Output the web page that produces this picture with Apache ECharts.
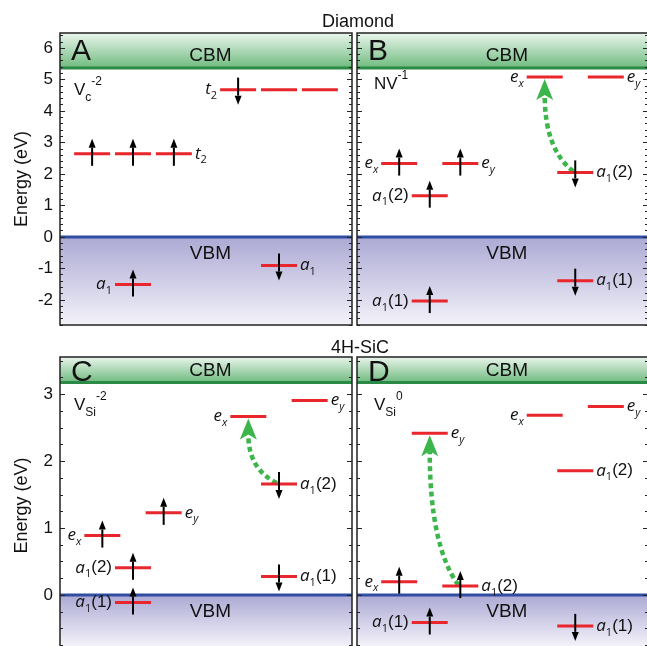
<!DOCTYPE html>
<html>
<head>
<meta charset="utf-8">
<script src="https://cdn.jsdelivr.net/npm/echarts@6/dist/echarts.min.js"></script>
<style>html,body{margin:0;padding:0;background:#fff}#c{width:647px;height:646px}</style>
</head>
<body>
<div id="c"></div>
<script>
// ---------------- data ----------------
const rowTitles = ['Diamond', '4H-SiC'];
const panelLetters = ['A', 'B', 'C', 'D'];
const defectNames = ['V_c^-2', 'NV^-1', 'V_Si^-2', 'V_Si^0'];
const bandGaps = [5.37, 5.37, 3.18, 3.18];          // CBM energy (eV), VBM = 0
const yRangeTop = [-2.8, 6.48];
const yRangeBottom = [-1, 3.56];
const majorTicksTop = [-2, -1, 0, 1, 2, 3, 4, 5, 6];
const majorTicksBottom = [-1, 0, 1, 2, 3];

// Panel A: Vc^-2 (diamond)
const colsA   = [11, 25, 39, 61, 75, 89, 25, 75];
const energyA = [2.64, 2.64, 2.64, 4.68, 4.68, 4.68, -1.51, -0.91];
const spinA   = ['up', 'up', 'up', 'down', '', '', 'up', 'down'];
const labelA  = ['', '', 't2', 't2', '', '', 'a1', 'a1'];
const sideA   = ['', '', 'R', 'L', '', '', 'L', 'R'];
const transA  = [];

// Panel B: NV^-1 (diamond)
const colsB   = [14.5, 35.5, 25, 25, 64.5, 85.5, 75, 75];
const energyB = [2.33, 2.33, 1.31, -2.04, 5.08, 5.08, 2.05, -1.39];
const spinB   = ['up', 'up', 'up', 'up', '', '', 'down', 'down'];
const labelB  = ['ex', 'ey', 'a1(2)', 'a1(1)', 'ex', 'ey', 'a1(2)', 'a1(1)'];
const sideB   = ['L', 'R', 'L', 'L', 'L', 'R', 'R', 'R'];
const transB  = [6, 4];

// Panel C: V_Si^-2 (4H-SiC)
const colsC   = [25, 25, 14.5, 35.5, 64.5, 85.5, 75, 75];
const energyC = [-0.11, 0.41, 0.89, 1.23, 2.67, 2.91, 1.66, 0.28];
const spinC   = ['up', 'up', 'up', 'up', '', '', 'down', 'down'];
const labelC  = ['a1(1)', 'a1(2)', 'ex', 'ey', 'ex', 'ey', 'a1(2)', 'a1(1)'];
const sideC   = ['L', 'L', 'L', 'R', 'L', 'R', 'R', 'R'];
const transC  = [6, 4];

// Panel D: V_Si^0 (4H-SiC)
const colsD   = [14.5, 35.5, 25, 25, 64.5, 85.5, 75, 75];
const energyD = [0.20, 0.135, -0.41, 2.42, 2.69, 2.82, 1.86, -0.46];
const spinD   = ['up', 'up', 'up', '', '', '', '', 'down'];
const labelD  = ['ex', 'a1(2)', 'a1(1)', 'ey', 'ex', 'ey', 'a1(2)', 'a1(1)'];
const sideD   = ['L', 'R', 'L', 'R', 'L', 'R', 'R', 'R'];
const transD  = [1, 3];

// ---------------- build ----------------
const panels = [
  {cols: colsA, E: energyA, spin: spinA, label: labelA, side: sideA, trans: transA},
  {cols: colsB, E: energyB, spin: spinB, label: labelB, side: sideB, trans: transB},
  {cols: colsC, E: energyC, spin: spinC, label: labelC, side: sideC, trans: transC},
  {cols: colsD, E: energyD, spin: spinD, label: labelD, side: sideD, trans: transD}
];

const FONT = "'Liberation Sans', Arial, sans-serif";
const IFONT = "'Open Sans', 'DejaVu Sans', sans-serif";
const RED = '#e8262b';
const GREEN = '#3cb54b';

const gridLayout = [
  {left: 60, top: 33, width: 292, height: 292},
  {left: 357, top: 33, width: 291, height: 292},
  {left: 60, top: 357, width: 292, height: 305},
  {left: 357, top: 357, width: 291, height: 305}
];

function minorList(lo, hi, step) {
  const out = [];
  const n = Math.round((hi - lo) / step);
  for (let i = 0; i <= n; i++) out.push(+(lo + i * step).toFixed(3));
  return out;
}

// rich text helpers
const richLevel = {
  i: {fontFamily: IFONT, fontStyle: 'italic', fontSize: 17, lineHeight: 24, fill: '#111'},
  s: {fontFamily: IFONT, fontStyle: 'italic', fontSize: 11, lineHeight: 11, verticalAlign: 'bottom', fill: '#111'},
  n: {fontFamily: IFONT, fontSize: 11, lineHeight: 11, verticalAlign: 'bottom', fill: '#111'},
  p: {fontFamily: FONT, fontSize: 17, lineHeight: 24, fill: '#111'}
};
function levelRich(lbl) {
  if (!lbl) return '';
  const m = lbl.match(/^([a-z])(\w)(\(.*\))?$/);
  const base = m[1], sub = m[2], rest = m[3] || '';
  const subStyle = /\d/.test(sub) ? 'n' : 's';
  return '{i|' + base + '}{' + subStyle + '|' + sub + '}' + (rest ? '{p|' + rest + '}' : '');
}
const richName = {
  b: {fontFamily: FONT, fontSize: 17, lineHeight: 28, fill: '#111'},
  sub: {fontFamily: FONT, fontSize: 12, lineHeight: 12, verticalAlign: 'bottom', fill: '#111'},
  sup: {fontFamily: FONT, fontSize: 12, lineHeight: 12, verticalAlign: 'top', fill: '#111'}
};
function nameRich(nm) {
  const [pre, sup] = nm.split('^');
  const parts = pre.split('_');
  let s = '{b|' + parts[0] + '}';
  if (parts[1]) s += '{sub|' + parts[1] + '}';
  s += '{sup|' + sup + '}';
  return s;
}

const grids = [], xAxes = [], yAxes = [], series = [];

panels.forEach((p, k) => {
  const top = k < 2;
  const range = top ? yRangeTop : yRangeBottom;
  const majors = top ? majorTicksTop : majorTicksBottom;
  const minors = top ? minorList(yRangeTop[0], yRangeTop[1], 0.2) : minorList(-1, 3.5, 0.25);
  grids.push(Object.assign({containLabel: false, outerBoundsMode: 'none'}, gridLayout[k]));
  xAxes.push({type: 'value', gridIndex: k, min: 0, max: 100, show: false});
  const yBase = yAxes.length;
  const showLabels = (k % 2 === 0);
  ['left', 'right'].forEach(pos => {
    yAxes.push({
      type: 'value', gridIndex: k, position: pos, min: range[0], max: range[1], z: 10,
      axisLine: {show: false}, splitLine: {show: false},
      axisTick: {show: true, inside: true, length: 5, customValues: majors, lineStyle: {color: '#222', width: 1}},
      axisLabel: {show: pos === 'left' && showLabels, customValues: majors, margin: 7,
        fontFamily: FONT, fontSize: 17, color: '#111'},
      name: (pos === 'left' && showLabels) ? 'Energy (eV)' : '',
      nameLocation: 'middle', nameGap: 29,
      nameTextStyle: {fontFamily: FONT, fontSize: 18, color: '#111',
        padding: top ? 0 : [0, 0, 0, 8]}
    });
    yAxes.push({
      type: 'value', gridIndex: k, position: pos, min: range[0], max: range[1], z: 10,
      axisLine: {show: false}, splitLine: {show: false},
      axisTick: {show: true, inside: true, length: 3, customValues: minors, lineStyle: {color: '#222', width: 1}},
      axisLabel: {show: false}
    });
  });

  const gap = bandGaps[k];

  // bands + texts
  series.push({
    type: 'custom', xAxisIndex: k, yAxisIndex: yBase, z: 1, silent: true,
    data: [[0, gap]],
    renderItem: (params, api) => {
      const cs = params.coordSys;
      const yC = api.coord([0, api.value(1)])[1];
      const y0 = api.coord([0, 0])[1];
      const yB = Math.min(cs.y + cs.height, top ? 9999 : 646);
      const cx = cs.x + cs.width * 0.515;
      return {type: 'group', children: [
        {type: 'rect', shape: {x: cs.x, y: cs.y, width: cs.width, height: yC - cs.y},
          style: {fill: new echarts.graphic.LinearGradient(0, 0, 0, 1, [
            {offset: 0, color: '#eaf5ec'}, {offset: 1, color: '#6fbb7f'}])}},
        {type: 'rect', shape: {x: cs.x, y: y0, width: cs.width, height: yB - y0},
          style: {fill: new echarts.graphic.LinearGradient(0, 0, 0, 1, [
            {offset: 0, color: '#aca9d4'}, {offset: 1, color: '#f3f2f9'}])}},
        {type: 'line', shape: {x1: cs.x, y1: yC, x2: cs.x + cs.width, y2: yC},
          style: {stroke: '#2b8a45', lineWidth: 3}},
        {type: 'line', shape: {x1: cs.x, y1: y0, x2: cs.x + cs.width, y2: y0},
          style: {stroke: '#2f4ea2', lineWidth: 3}},
        {type: 'text', style: {text: 'CBM', x: cx, y: yC - 12, align: 'center', verticalAlign: 'middle',
          font: '19px ' + FONT, fill: '#111'}},
        {type: 'text', style: {text: 'VBM', x: cx, y: y0 + 17, align: 'center', verticalAlign: 'middle',
          font: '19px ' + FONT, fill: '#111'}},
        {type: 'text', style: {text: panelLetters[k], x: cs.x + 11, y: cs.y + (top ? 19 : 16), align: 'left', verticalAlign: 'middle',
          font: '30px ' + FONT, fill: '#111'}},
        {type: 'text', style: {text: nameRich(defectNames[k]), rich: richName,
          x: cs.x + (k % 2 === 0 ? 14 : 17), y: cs.y + (top ? (k === 0 ? 57 : 51) : 48), align: 'left', verticalAlign: 'middle'}}
      ]};
    }
  });

  // transition (green dotted arrow)
  if (p.trans.length) {
    const a = p.trans[0], b = p.trans[1];
    series.push({
      type: 'custom', xAxisIndex: k, yAxisIndex: yBase, z: 3, silent: true,
      data: [[p.cols[a], p.E[a], p.cols[b], p.E[b]]],
      renderItem: (params, api) => {
        const s = api.coord([api.value(0), api.value(1)]);
        const e = api.coord([api.value(2), api.value(3)]);
        const tipY = e[1] + 2, baseY = tipY + 21, notchY = tipY + 16;
        const cpy = s[1] - 0.3 * (s[1] - notchY);
        return {type: 'group', children: [
          {type: 'bezierCurve', shape: {x1: s[0] - 2, y1: s[1] - 1, x2: e[0], y2: notchY, cpx1: e[0], cpy1: cpy},
            style: {stroke: GREEN, lineWidth: 4.5, lineDash: [5, 3.5], fill: null}},
          {type: 'polygon', shape: {points: [[e[0], tipY], [e[0] + 8.5, baseY], [e[0], notchY], [e[0] - 8.5, baseY]]},
            style: {fill: GREEN}}
        ]};
      }
    });
  }

  // levels
  const levelData = p.cols.map((c, i) => [c, p.E[i], i]);
  series.push({
    type: 'custom', xAxisIndex: k, yAxisIndex: yBase, z: 5, silent: true,
    data: levelData,
    renderItem: (params, api) => {
      const i = api.value(2);
      const c = api.coord([api.value(0), api.value(1)]);
      const hw = 18;
      const ch = [{type: 'line', shape: {x1: c[0] - hw, y1: c[1], x2: c[0] + hw, y2: c[1]},
        style: {stroke: RED, lineWidth: 3}}];
      const sp = p.spin[i];
      if (sp) {
        const dir = sp === 'up' ? -1 : 1;
        const tip = c[1] + dir * 15, tail = c[1] - dir * 12;
        const hb = tip - dir * 9;
        ch.push({type: 'line', shape: {x1: c[0], y1: tail, x2: c[0], y2: hb},
          style: {stroke: '#000', lineWidth: 2}});
        ch.push({type: 'polygon', shape: {points: [[c[0], tip], [c[0] + 3.5, hb], [c[0] - 3.5, hb]]},
          style: {fill: '#000'}});
      }
      const lb = p.label[i];
      if (lb) {
        const L = p.side[i] === 'L';
        ch.push({type: 'text', style: {text: levelRich(lb), rich: richLevel,
          x: L ? c[0] - hw - 3 : c[0] + hw + 3, y: c[1],
          align: L ? 'right' : 'left', verticalAlign: 'middle'}});
      }
      return {type: 'group', children: ch};
    }
  });

  // frame
  series.push({
    type: 'custom', xAxisIndex: k, yAxisIndex: yBase, z: 8, silent: true,
    data: [[0, 0]],
    renderItem: (params) => {
      const cs = params.coordSys;
      return {type: 'rect', shape: {x: cs.x, y: cs.y, width: cs.width, height: cs.height},
        style: {fill: null, stroke: '#222', lineWidth: 1.5}};
    }
  });
});

const chart = echarts.init(document.getElementById('c'), null, {renderer: 'canvas'});
chart.setOption({
  animation: false,
  backgroundColor: '#fff',
  title: [
    {text: rowTitles[0], left: 353, top: 8, textAlign: 'center',
      textStyle: {fontFamily: FONT, fontSize: 18, fontWeight: 'normal', color: '#111'}},
    {text: rowTitles[1], left: 355, top: 334, textAlign: 'center',
      textStyle: {fontFamily: FONT, fontSize: 18, fontWeight: 'normal', color: '#111'}}
  ],
  grid: grids, xAxis: xAxes, yAxis: yAxes, series: series
});
</script>
</body>
</html>
